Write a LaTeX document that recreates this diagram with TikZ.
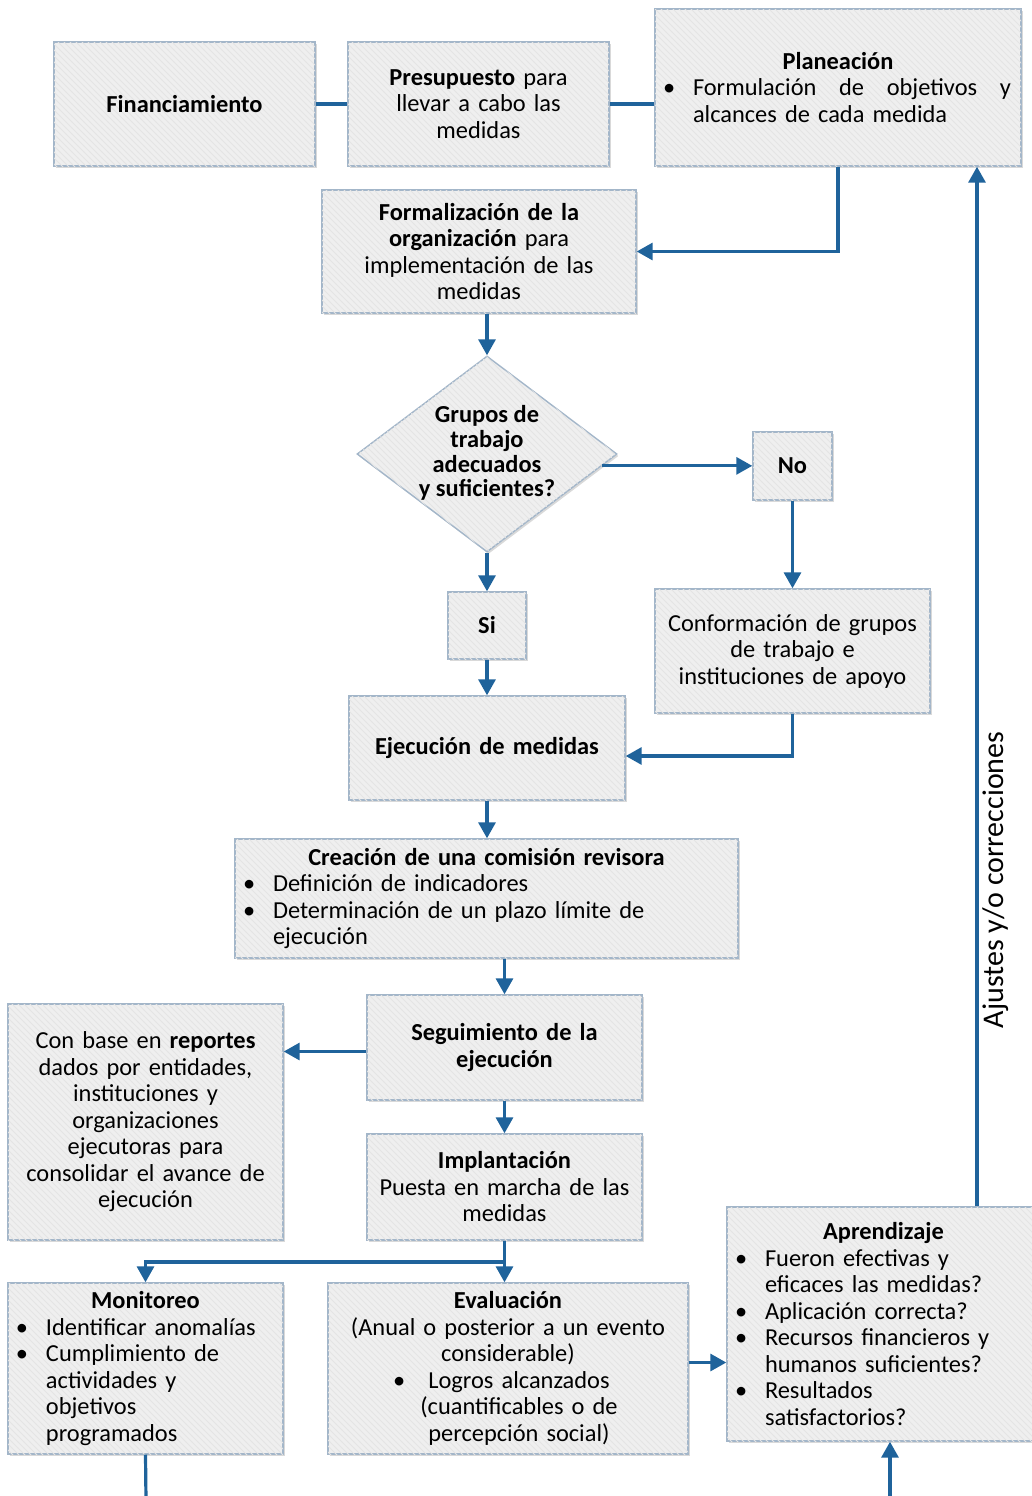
\documentclass[tikz,border=0pt]{standalone}
\usepackage{fontspec}
\setmainfont{Carlito}
\usetikzlibrary{positioning, arrows.meta, shapes.geometric, shadows, patterns, calc}
\definecolor{fondo}{HTML}{EFEFEF}
\definecolor{rayado}{HTML}{E4E4E4}
\definecolor{borde}{HTML}{A3B6C9}
\definecolor{azul}{HTML}{1F639B}
% lista de vinetas sin espacios extra
\newenvironment{puntos}{\begin{list}{\textbullet}{\setlength{\leftmargin}{15pt}\setlength{\labelwidth}{15pt}%
	\setlength{\labelsep}{0pt}\setlength{\itemsep}{0pt}\setlength{\topsep}{0pt}\setlength{\parsep}{0pt}%
	\setlength{\partopsep}{0pt}\renewcommand{\makelabel}[1]{##1\hfil}}\raggedright}{\end{list}}

\begin{document}
\begin{tikzpicture}[x=0.5pt, y=-0.5pt,
	caja/.style={draw=borde, line width=0.7pt, fill=fondo, align=center, inner xsep=4pt, inner ysep=3pt,
		font=\fontsize{12.2}{13.25}\selectfont,
		drop shadow={shadow xshift=0.8pt, shadow yshift=-1pt, opacity=0.3},
		postaction={pattern=north west lines, pattern color=rayado}},
	rombo/.style={diamond, draw=borde, line width=0.7pt, fill=fondo, inner sep=0pt,
		minimum width=130pt, minimum height=98pt,
		drop shadow={shadow xshift=0.8pt, shadow yshift=-1pt, opacity=0.3},
		postaction={pattern=north west lines, pattern color=rayado}},
	flecha/.style={azul, line width=1.6pt, -{Triangle[width=8.5pt, length=8pt]}},
	linea/.style={azul, line width=1.6pt}]
	\useasboundingbox (0,0) rectangle (1032,1496);
	% fila superior
	\node[caja, text width=122.5pt, minimum height=62pt] (financiamiento) at (184.5,104) {\textbf{Financiamiento}};
	\node[caja, text width=122.5pt, minimum height=62pt] (presupuesto) at (478.5,104) {\textbf{Presupuesto} para\\llevar a cabo las\\medidas};
	\node[caja, text width=175pt, minimum height=78.5pt] (planeacion) at (838,87.5) {\textbf{Planeación}
		\begin{puntos}\item \makebox[159pt]{Formulación\hfill de\hfill objetivos\hfill y}\\alcances de cada medida\end{puntos}};
	\node[caja, text width=149pt, minimum height=61.5pt] (formalizacion) at (479,251.5) {\textbf{Formalización de la}\\\textbf{organización} para\\implementación de las\\medidas};
	% decision
	\node[rombo] (grupos) at (487,454) {};
	\node[font=\bfseries\fontsize{12.2}{12.4}\selectfont, align=center] (grupostexto) at (487,453) {Grupos de\\trabajo\\adecuados\\y suficientes?};
	\node[caja, text width=31.5pt, minimum height=34pt] (no) at (792.5,466) {\textbf{No}};
	\node[caja, text width=31pt, minimum height=33.5pt] (si) at (487,625.5) {\textbf{Si}};
	\node[caja, text width=129.5pt, minimum height=62pt] (conformacion) at (792.5,651) {Conformación de grupos\\de trabajo e\\instituciones de apoyo};
	\node[caja, text width=130pt, minimum height=52pt] (ejecucion) at (487,748) {\textbf{Ejecución de medidas}};
	\node[caja, text width=243.5pt, minimum height=59.5pt] (creacion) at (486.5,898.5) {\textbf{Creación de una comisión revisora}
		\begin{puntos}\item Definición de indicadores
		\item Determinación de un plazo límite de\\ejecución\end{puntos}};
	\node[caja, text width=129.5pt, minimum height=52.5pt] (seguimiento) at (504.5,1047.5) {\textbf{Seguimiento de la}\\\textbf{ejecución}};
	\node[caja, text width=129.5pt, minimum height=118pt] (conbase) at (145.5,1122) {Con base en \textbf{reportes}\\dados por entidades,\\instituciones y\\organizaciones\\ejecutoras para\\consolidar el avance de\\ejecución};
	\node[caja, text width=129.5pt, minimum height=53pt] (implantacion) at (504.5,1187) {\textbf{Implantación}\\Puesta en marcha de las\\medidas};
	% fila inferior
	\node[caja, text width=129.5pt, minimum height=85.5pt] (monitoreo) at (145.5,1368.5) {\textbf{Monitoreo}
		\begin{puntos}\item Identificar anomalías
		\item Cumplimiento de\\actividades y\\objetivos\\programados\end{puntos}};
	\node[caja, text width=172pt, minimum height=85.5pt] (evaluacion) at (508,1368.5) {\textbf{Evaluación}\\(Anual o posterior a un evento\\considerable)\\
		\makebox[11pt][l]{\textbullet}\parbox[t]{104pt}{\centering Logros alcanzados\\(cuantificables o de\\percepción social)}};
	\node[caja, text width=148.5pt, minimum height=117pt] (aprendizaje) at (883.5,1324) {\textbf{Aprendizaje}
		\begin{puntos}\item Fueron efectivas y\\eficaces las medidas?
		\item Aplicación correcta?
		\item Recursos financieros y\\humanos suficientes?
		\item Resultados\\satisfactorios?\end{puntos}};
	\coordinate (salida) at ($(grupos.east)!0.12!(grupos.south)$);
	\coordinate (ramal) at (505,1262);
	\coordinate (ajuste) at (977,0);
	\coordinate (finmonitoreo) at (146,1500);
	\coordinate (entrada) at (890,1500);
	% conectores
	\draw[linea] (financiamiento.east) -- (presupuesto.west);
	\draw[linea] (presupuesto.east) -- (presupuesto.east -| planeacion.west);
	\draw[flecha] (planeacion.south) |- (formalizacion.east);
	\draw[flecha] (grupos.north |- formalizacion.south) -- (grupos.north);
	\draw[flecha] (salida) -- (salida -| no.west);
	\draw[flecha] (grupos.south) -- (si.north);
	\draw[flecha] (no.south) -- (conformacion.north);
	\draw[flecha] (si.south) -- (ejecucion.north);
	\draw[flecha] (conformacion.south) |- ($(ejecucion.east)+(0,8)$);
	\draw[flecha] (ejecucion.south) -- (creacion.north -| ejecucion.south);
	\draw[flecha] (seguimiento.north |- creacion.south) -- (seguimiento.north);
	\draw[flecha] ($(seguimiento.west)+(0,4)$) -- ($(seguimiento.west -| conbase.east)+(0,4)$);
	\draw[flecha] (seguimiento.south) -- (implantacion.north);
	\draw[flecha] (implantacion.south) -- (implantacion.south |- evaluacion.north);
	\draw[flecha] (ramal) -| (monitoreo.north);
	\draw[linea] (monitoreo.south) -- (finmonitoreo);
	\draw[flecha] ($(evaluacion.east)+(0,-6)$) -- ($(evaluacion.east -| aprendizaje.west)+(0,-6)$);
	\draw[flecha] (entrada) -- (entrada |- aprendizaje.south);
	\draw[flecha] (aprendizaje.north -| ajuste) -- (planeacion.south -| ajuste)
		node[pos=0.314, rotate=90, anchor=north, inner sep=2pt, text=black, font=\fontsize{15}{15}\selectfont] (ajustes) {Ajustes y/o correcciones};
\end{tikzpicture}
\end{document}
